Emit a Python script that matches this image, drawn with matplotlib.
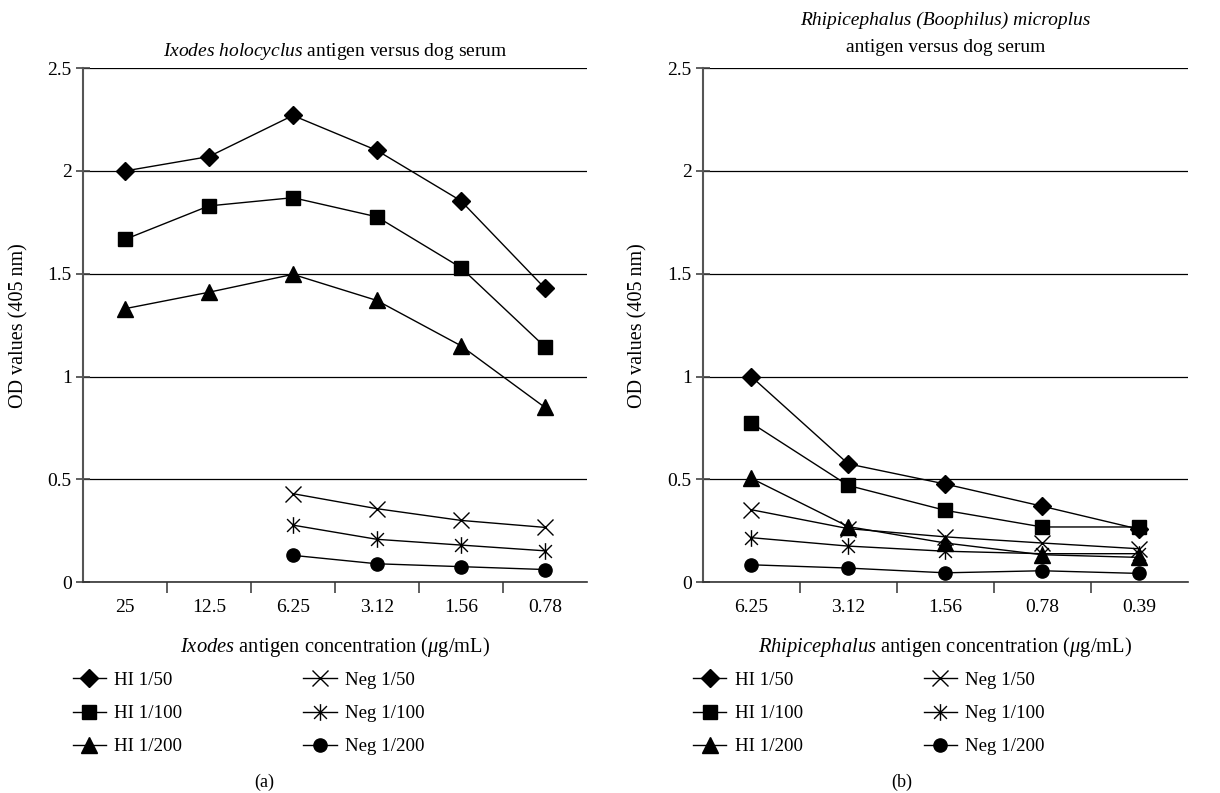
import numpy as np
import matplotlib
matplotlib.use("Agg")
import matplotlib.pyplot as plt
from matplotlib.path import Path

plt.rcParams['font.family'] = ['Liberation Serif', 'DejaVu Serif']
plt.rcParams['mathtext.fontset'] = 'custom'
plt.rcParams['mathtext.rm'] = 'Liberation Serif'
plt.rcParams['mathtext.it'] = 'Liberation Serif:italic'

# --- data ---
ixodes_conc = ["25", "12.5", "6.25", "3.12", "1.56", "0.78"]
ix_hi50 = [2.00, 2.07, 2.27, 2.10, 1.855, 1.43]
ix_hi100 = [1.667, 1.83, 1.87, 1.777, 1.53, 1.145]
ix_hi200 = [1.33, 1.41, 1.497, 1.37, 1.15, 0.85]
ix_neg50 = [np.nan, np.nan, 0.43, 0.357, 0.30, 0.266]
ix_neg100 = [np.nan, np.nan, 0.277, 0.208, 0.18, 0.152]
ix_neg200 = [np.nan, np.nan, 0.13, 0.089, 0.075, 0.061]

rhip_conc = ["6.25", "3.12", "1.56", "0.78", "0.39"]
rh_hi50 = [1.00, 0.575, 0.477, 0.369, 0.257]
rh_hi100 = [0.774, 0.47, 0.349, 0.268, 0.268]
rh_hi200 = [0.505, 0.27, 0.19, 0.133, 0.12]
rh_neg50 = [0.352, 0.26, 0.22, 0.19, 0.162]
rh_neg100 = [0.216, 0.175, 0.15, 0.138, 0.138]
rh_neg200 = [0.084, 0.068, 0.045, 0.055, 0.042]

labels = ["HI 1/50", "HI 1/100", "HI 1/200", "Neg 1/50", "Neg 1/100", "Neg 1/200"]

# asterisk = x plus vertical bar
star = Path([(-1, -1), (1, 1), (-1, 1), (1, -1), (0, -1.3), (0, 1.3)],
            [Path.MOVETO, Path.LINETO, Path.MOVETO, Path.LINETO, Path.MOVETO, Path.LINETO])
styles = [
    dict(marker='D', ms=9.5, mfc='black'),
    dict(marker='s', ms=9.5, mfc='black'),
    dict(marker='^', ms=11, mfc='black'),
    dict(marker='x', ms=11, mew=1.0, mfc='black'),
    dict(marker=star, ms=12, mew=1.0, mfc='none'),
    dict(marker='o', ms=9.5, mfc='black'),
]

FS = 14

fig = plt.figure(figsize=(12.2, 7.93), dpi=100)
ax1 = fig.add_axes([0.068, 0.266, 0.413, 0.648])
ax2 = fig.add_axes([0.576, 0.266, 0.3975, 0.648])


def draw(ax, cats, series, xlabel):
    x = np.arange(len(cats))
    for ys, st, lab in zip(series, styles, labels):
        ax.plot(x, ys, color='black', lw=1.0, mec='black', label=lab, **st)
    ax.set_xlim(-0.5, len(cats) - 0.5)
    ax.set_ylim(0, 2.5)
    ax.set_yticks([0, 0.5, 1, 1.5, 2, 2.5])
    ax.set_yticklabels(["0", "0.5", "1", "1.5", "2", "2.5"])
    ax.yaxis.grid(True, color='black', lw=0.9)
    ax.set_axisbelow(True)
    ax.set_xticks(x)
    ax.set_xticklabels(cats)
    ax.set_xticks(np.arange(0.5, len(cats) - 1), minor=True)
    ax.tick_params(axis='x', which='major', length=0, pad=12, labelsize=FS)
    ax.tick_params(axis='x', which='minor', length=8, width=1.2, color='#444444', direction='out')
    ax.tick_params(axis='y', length=10, width=1.2, color='#444444', direction='inout',
                   labelsize=FS, pad=3)
    for s in ['top', 'right']:
        ax.spines[s].set_visible(False)
    ax.spines['left'].set_color('#555555')
    ax.spines['left'].set_linewidth(1.5)
    ax.spines['bottom'].set_color('#333333')
    ax.spines['bottom'].set_linewidth(1.2)
    ax.set_ylabel("OD values (405 nm)", fontsize=14.5)
    ax.set_xlabel(xlabel, fontsize=14.8, labelpad=14)
    ax.legend(loc='upper left', bbox_to_anchor=(-0.035, -0.16), ncol=2, frameon=False,
              fontsize=13.6, columnspacing=6.4, handlelength=1.75, handletextpad=0.45,
              labelspacing=0.84, borderaxespad=0)


draw(ax1, ixodes_conc, [ix_hi50, ix_hi100, ix_hi200, ix_neg50, ix_neg100, ix_neg200],
     r"$\mathit{Ixodes}$ antigen concentration ($\mathit{\mu}$g/mL)")
draw(ax2, rhip_conc, [rh_hi50, rh_hi100, rh_hi200, rh_neg50, rh_neg100, rh_neg200],
     r"$\mathit{Rhipicephalus}$ antigen concentration ($\mathit{\mu}$g/mL)")
ax1.yaxis.set_label_coords(-0.109, 0.5)
ax2.yaxis.set_label_coords(-0.113, 0.5)

ax1.set_title(r"$\mathit{Ixodes\ holocyclus}$ antigen versus dog serum", fontsize=FS, pad=9)
ax2.text(0.5, 1.077, "Rhipicephalus (Boophilus) microplus", transform=ax2.transAxes,
         ha='center', va='bottom', fontsize=FS, style='italic')
ax2.text(0.5, 1.024, "antigen versus dog serum", transform=ax2.transAxes,
         ha='center', va='bottom', fontsize=FS)

fig.text(0.217, 0.008, "(a)", ha='center', fontsize=13)
fig.text(0.739, 0.008, "(b)", ha='center', fontsize=13)

fig.savefig("out.png", dpi=100)
